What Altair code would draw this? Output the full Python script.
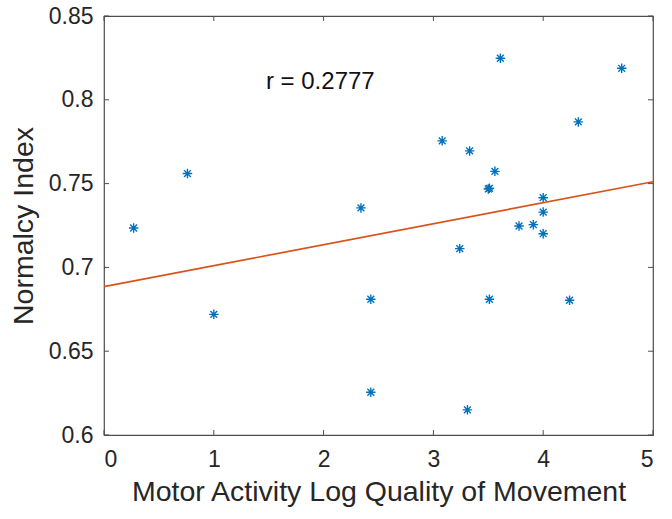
import altair as alt
import pandas as pd

# Data
mal_qom = [0.27, 0.76, 1.0, 2.34, 2.43, 2.43, 3.08, 3.33, 3.61, 3.56, 3.50, 3.51,
           4.0, 4.0, 3.78, 3.91, 4.0, 3.24, 3.51, 4.24, 3.31, 4.32, 4.715]
normalcy = [0.7235, 0.756, 0.672, 0.7355, 0.681, 0.6255, 0.7755, 0.7695, 0.8248, 0.7573, 0.7468, 0.7472,
            0.7416, 0.733, 0.7247, 0.7255, 0.7201, 0.7112, 0.681, 0.6804, 0.615, 0.7868, 0.8188]

fit_x = [0.0, 5.0]
fit_y = [0.6885, 0.7511]

annot_x = [1.97]
annot_y = [0.8108]
annot_text = ["r = 0.2777"]

x_ticks = [0, 1, 2, 3, 4, 5]
y_ticks = [0.6, 0.65, 0.7, 0.75, 0.8, 0.85]

W, H = 549, 419
TL = 5  # inward tick length
FONT = "Liberation Sans"
AX = "#262626"

pts = pd.DataFrame({"x": mal_qom, "y": normalcy})
fit = pd.DataFrame({"x": fit_x, "y": fit_y})
ann = pd.DataFrame({"x": annot_x, "y": annot_y, "t": annot_text})
xt = pd.DataFrame({"x": x_ticks})
yt = pd.DataFrame({"y": y_ticks})

xs = alt.Scale(domain=[0, 5], nice=False, zero=False)
ys = alt.Scale(domain=[0.6, 0.85], nice=False, zero=False)

X_TITLE = "Motor Activity Log Quality of Movement"
Y_TITLE = "Normalcy Index"

ax_x = alt.Axis(
    orient="bottom", values=x_ticks, ticks=False, domain=False, grid=False,
    labelFontSize=23, labelFont=FONT, labelColor=AX, labelPadding=13,
    title=X_TITLE, titleFont=FONT,
    titleFontSize=28.5, titleFontWeight="normal", titleColor=AX, titlePadding=6)
ax_y = alt.Axis(
    orient="left", values=y_ticks, format=".2~f", ticks=False, domain=False, grid=False,
    labelFontSize=23, labelFont=FONT, labelColor=AX, labelPadding=11,
    title=Y_TITLE, titleFont=FONT, titleFontSize=28.5,
    titleFontWeight="normal", titleColor=AX, titlePadding=10)


def X(field="x"):
    return alt.X(f"{field}:Q", scale=xs, axis=ax_x, title=X_TITLE)


def Y(field="y"):
    return alt.Y(f"{field}:Q", scale=ys, axis=ax_y, title=Y_TITLE)


asterisk = "M-1,0L1,0M0,-1L0,1M-0.72,-0.72L0.72,0.72M-0.72,0.72L0.72,-0.72"

points = alt.Chart(pts).mark_point(
    shape=asterisk, filled=False, color="#0072BD", size=90, strokeWidth=1.4, opacity=1
).encode(x=X(), y=Y())

line = alt.Chart(fit).mark_line(color="#D95319", strokeWidth=1.7).encode(x=X(), y=Y())

text = alt.Chart(ann).mark_text(
    font=FONT, fontSize=24, color="#111111", align="center", baseline="middle"
).encode(x=X(), y=Y(), text="t:N")

rule_style = dict(color="#4d4d4d", strokeWidth=1)
tick_bottom = alt.Chart(xt).mark_rule(**rule_style).encode(
    x=X(), y=alt.value(H), y2=alt.value(H - TL))
tick_top = alt.Chart(xt).mark_rule(**rule_style).encode(
    x=X(), y=alt.value(0), y2=alt.value(TL))
tick_left = alt.Chart(yt).mark_rule(**rule_style).encode(
    y=Y(), x=alt.value(0), x2=alt.value(TL))
tick_right = alt.Chart(yt).mark_rule(**rule_style).encode(
    y=Y(), x=alt.value(W), x2=alt.value(W - TL))

chart = alt.layer(
    points, tick_bottom, tick_top, tick_left, tick_right, line, text
).properties(
    width=W, height=H,
    autosize=alt.AutoSizeParams(type="none"),
    padding={"left": 104, "top": 16, "right": 672 - 104 - W, "bottom": 519 - 16 - H},
    background="white",
).configure_view(stroke="#4d4d4d", strokeWidth=1.2)

chart.save("out.html", embed_options={"renderer": "svg", "actions": False})
